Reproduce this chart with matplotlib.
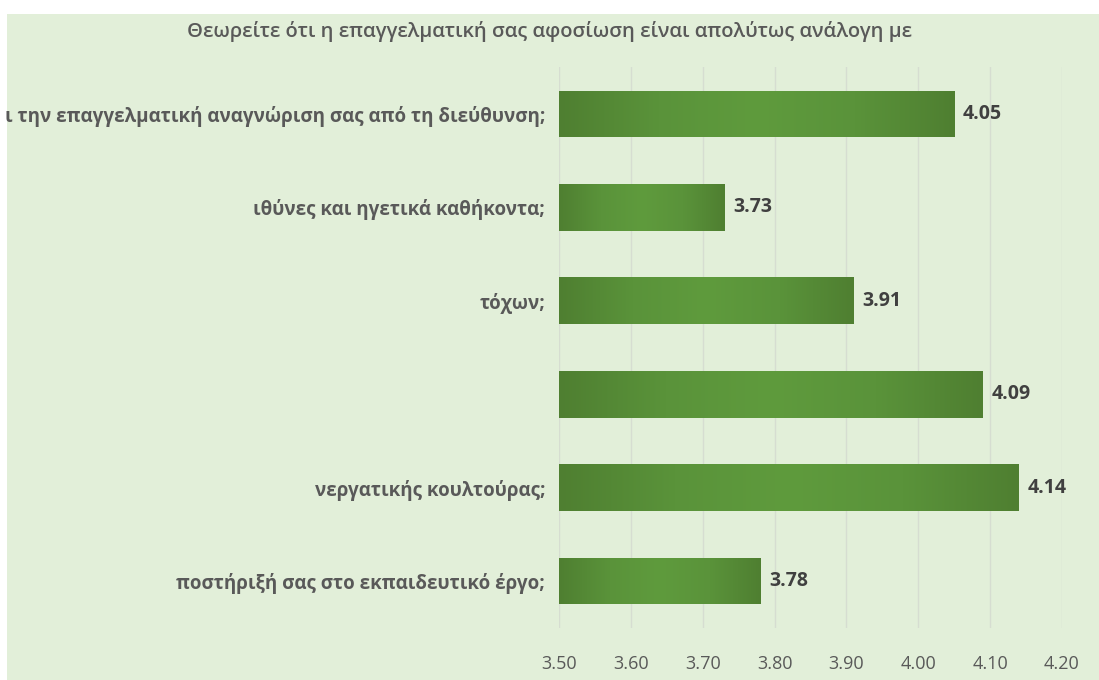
import matplotlib
matplotlib.use("Agg")
import matplotlib.pyplot as plt
import numpy as np
from matplotlib.colors import LinearSegmentedColormap

plt.rcParams['font.family'] = ['Open Sans', 'DejaVu Sans']

title = "Θεωρείτε ότι η επαγγελματική σας αφοσίωση είναι απολύτως ανάλογη με"
labels = [
    "ι την επαγγελματική αναγνώριση σας από τη διεύθυνση;",
    "ιθύνες και ηγετικά καθήκοντα;",
    "τόχων;",
    "",
    "νεργατικής κουλτούρας;",
    "ποστήριξή σας στο εκπαιδευτικό έργο;",
]
values = [4.05, 3.73, 3.91, 4.09, 4.14, 3.78]
ticks = [3.50, 3.60, 3.70, 3.80, 3.90, 4.00, 4.10, 4.20]

bg = "#e2efd9"
fig = plt.figure(figsize=(10.99, 6.8), dpi=100, facecolor="white")

# background panel (white strip at top and left like the screenshot)
bg_ax = fig.add_axes([7 / 1099, 0, 1 - 7 / 1099, 1 - 14 / 680], zorder=-1)
bg_ax.set_facecolor(bg)
bg_ax.set_xticks([])
bg_ax.set_yticks([])
for s in bg_ax.spines.values():
    s.set_visible(False)

ax = fig.add_axes([559 / 1099, 0.077, 503 / 1099, 0.824], zorder=1)
ax.set_facecolor("none")

y = np.arange(len(values))
bars = ax.barh(y, [v - 3.5 for v in values], left=3.5, height=0.5, color="#568a34",
               edgecolor="none", zorder=2)

cmap = LinearSegmentedColormap.from_list("g", ["#4f7f31", "#5a933a", "#5f9b3d", "#5a933a", "#4f7f31"])
grad = np.linspace(0, 1, 256).reshape(1, -1)
for b in bars:
    x0, y0 = b.get_x(), b.get_y()
    w, h = b.get_width(), b.get_height()
    im = ax.imshow(grad, cmap=cmap, aspect="auto", extent=(x0, x0 + w, y0 + h, y0),
                   zorder=3, interpolation="bicubic")
    im.set_clip_path(b)
    ax.text(x0 + w + 0.012, y0 + h / 2, f"{x0 + w:.2f}", va="center", ha="left",
            fontsize=14, fontweight="bold", color="#404040", zorder=4)

ax.set_xlim(3.5, 4.2)
ax.set_ylim(len(values) - 0.5, -0.5)
ax.set_xticks(ticks)
ax.set_xticklabels([f"{t:.2f}" for t in ticks], fontsize=13, color="#595959")
ax.set_yticks(y)
ax.set_yticklabels(labels, fontsize=13.5, fontweight="bold", color="#595959")
ax.tick_params(axis="both", length=0)
ax.tick_params(axis="x", pad=20)
ax.tick_params(axis="y", pad=10)
ax.grid(axis="x", color="#d6ddd1", linewidth=1.0, zorder=1)
ax.set_axisbelow(True)
for s in ax.spines.values():
    s.set_visible(False)

fig.text(0.5, 1 - 32 / 680, title, ha="center", va="center", fontsize=14.5,
         fontweight="semibold", color="#595959")

fig.savefig("out.png", dpi=100, facecolor="white")
